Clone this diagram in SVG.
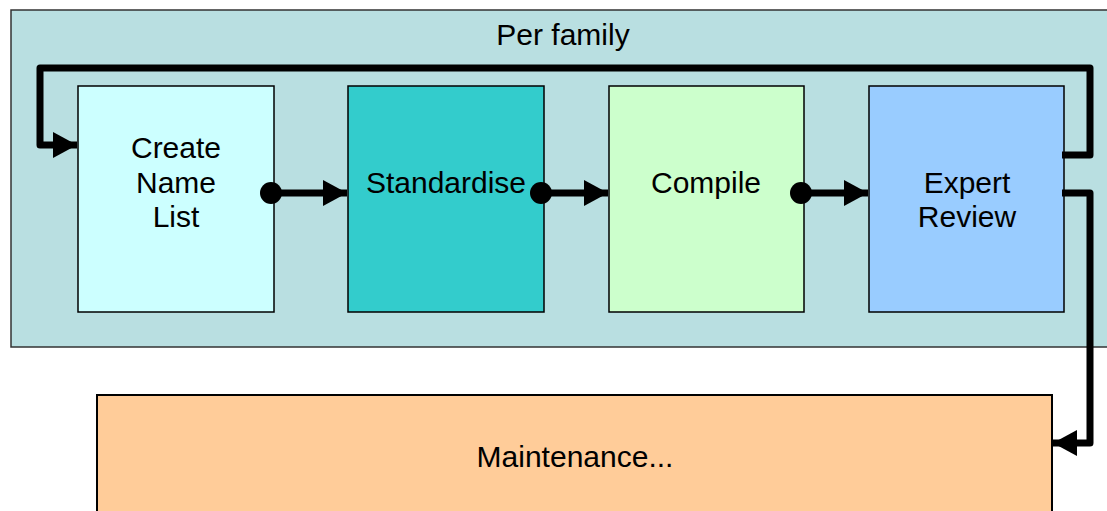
<svg xmlns="http://www.w3.org/2000/svg" width="1107" height="511" viewBox="0 0 1107 511">
  <style>
    .box { stroke: #000; stroke-width: 1.5; }
    .lbl { font-family: "Liberation Sans", Arial, sans-serif; font-size: 30px; fill: #000; text-anchor: middle; }
    .wire { fill: none; stroke: #000; stroke-width: 7; stroke-linejoin: round; }
  </style>
  <defs>
    <marker id="head" markerUnits="userSpaceOnUse" markerWidth="26" markerHeight="28" refX="24" refY="13" orient="auto">
      <path d="M0,0 L24,13 L0,26 Z" fill="#000"/>
    </marker>
  </defs>

  <g id="family">
    <rect x="11" y="10" width="1110" height="337" fill="#B9DFE1" stroke="#333" stroke-width="1.5"/>
    <text class="lbl" x="563" y="45">Per family</text>
  </g>

  <g id="create">
    <rect class="box" x="78" y="86" width="196" height="226" fill="#CCFFFF"/>
    <text class="lbl" x="176" y="158">Create</text>
    <text class="lbl" x="176" y="193">Name</text>
    <text class="lbl" x="176" y="227">List</text>
  </g>

  <g id="standardise">
    <rect class="box" x="348" y="86" width="196" height="226" fill="#33CCCC"/>
    <text class="lbl" x="446" y="193">Standardise</text>
  </g>

  <g id="compile">
    <rect class="box" x="609" y="86" width="195" height="226" fill="#CCFFCC"/>
    <text class="lbl" x="706" y="193">Compile</text>
  </g>

  <g id="review">
    <rect class="box" x="869" y="86" width="195" height="226" fill="#99CCFF"/>
    <text class="lbl" x="967" y="193">Expert</text>
    <text class="lbl" x="967" y="227">Review</text>
  </g>

  <g id="maintenance">
    <rect x="97" y="395" width="955" height="130" fill="#FFCC99" stroke="#000" stroke-width="2"/>
    <text class="lbl" x="575" y="467">Maintenance...</text>
  </g>

  <g id="connectors">
    <circle cx="271" cy="193" r="11" fill="#000"/>
    <line class="wire" x1="271" y1="193" x2="347" y2="193" marker-end="url(#head)"/>
    <circle cx="541" cy="193" r="11" fill="#000"/>
    <line class="wire" x1="541" y1="193" x2="608" y2="193" marker-end="url(#head)"/>
    <circle cx="801" cy="193" r="11" fill="#000"/>
    <line class="wire" x1="801" y1="193" x2="868" y2="193" marker-end="url(#head)"/>
    <path class="wire" d="M1062,155 H1090 V68 H40 V145 H77" marker-end="url(#head)"/>
    <path class="wire" d="M1062,193 H1090 V443 H1053" marker-end="url(#head)"/>
  </g>
</svg>
